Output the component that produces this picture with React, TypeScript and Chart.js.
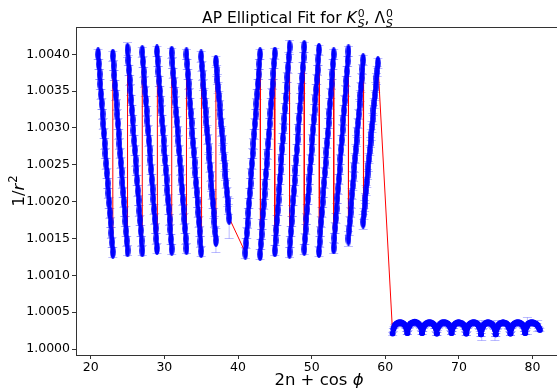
import React, { useEffect, useRef } from "react";
import { Chart, registerables } from "chart.js";

Chart.register(...registerables);

// ---- data ----
const cosPhi = [-1.0, -0.9, -0.8, -0.7, -0.6, -0.5, -0.4, -0.3, -0.2, -0.1, 0.0, 0.1, 0.2, 0.3, 0.4, 0.5, 0.6, 0.7, 0.8, 0.9, 1.0];

// falling segments
const nGroup1 = [11, 12, 13, 14, 15, 16, 17, 18, 19];
const yGroup1 = [
  [1.00400, 1.00387, 1.00373, 1.00360, 1.00346, 1.00333, 1.00319, 1.00306, 1.00293, 1.00279, 1.00266, 1.00252, 1.00239, 1.00225, 1.00212, 1.00199, 1.00185, 1.00172, 1.00158, 1.00145, 1.00132],
  [1.00398, 1.00385, 1.00372, 1.00358, 1.00345, 1.00332, 1.00319, 1.00306, 1.00292, 1.00279, 1.00266, 1.00253, 1.00240, 1.00226, 1.00213, 1.00200, 1.00187, 1.00174, 1.00160, 1.00147, 1.00134],
  [1.00406, 1.00392, 1.00379, 1.00365, 1.00352, 1.00338, 1.00324, 1.00311, 1.00297, 1.00283, 1.00270, 1.00256, 1.00243, 1.00229, 1.00215, 1.00202, 1.00188, 1.00175, 1.00161, 1.00147, 1.00134],
  [1.00403, 1.00390, 1.00376, 1.00363, 1.00350, 1.00337, 1.00323, 1.00310, 1.00297, 1.00283, 1.00270, 1.00257, 1.00244, 1.00230, 1.00217, 1.00204, 1.00190, 1.00177, 1.00164, 1.00150, 1.00137],
  [1.00404, 1.00391, 1.00377, 1.00364, 1.00350, 1.00337, 1.00324, 1.00310, 1.00297, 1.00283, 1.00270, 1.00257, 1.00243, 1.00230, 1.00216, 1.00203, 1.00190, 1.00176, 1.00163, 1.00149, 1.00136],
  [1.00402, 1.00389, 1.00375, 1.00362, 1.00349, 1.00336, 1.00322, 1.00309, 1.00296, 1.00283, 1.00270, 1.00256, 1.00243, 1.00230, 1.00217, 1.00203, 1.00190, 1.00177, 1.00164, 1.00150, 1.00137],
  [1.00400, 1.00387, 1.00373, 1.00360, 1.00347, 1.00333, 1.00320, 1.00307, 1.00293, 1.00280, 1.00267, 1.00253, 1.00240, 1.00226, 1.00213, 1.00200, 1.00186, 1.00173, 1.00160, 1.00146, 1.00133],
  [1.00397, 1.00384, 1.00372, 1.00359, 1.00347, 1.00334, 1.00322, 1.00309, 1.00297, 1.00285, 1.00272, 1.00260, 1.00247, 1.00235, 1.00222, 1.00210, 1.00198, 1.00185, 1.00173, 1.00160, 1.00148],
  [1.00390, 1.00378, 1.00366, 1.00355, 1.00343, 1.00331, 1.00319, 1.00307, 1.00296, 1.00284, 1.00272, 1.00260, 1.00249, 1.00237, 1.00225, 1.00213, 1.00201, 1.00190, 1.00178],
];

// rising segments
const nGroup2 = [21, 22, 23, 24, 25, 26, 27, 28, 29];
const yGroup2 = [
  [1.00131, 1.00144, 1.00158, 1.00171, 1.00185, 1.00198, 1.00212, 1.00225, 1.00239, 1.00252, 1.00266, 1.00279, 1.00292, 1.00306, 1.00319, 1.00333, 1.00346, 1.00360, 1.00373, 1.00387, 1.00400],
  [1.00129, 1.00143, 1.00156, 1.00170, 1.00184, 1.00197, 1.00211, 1.00224, 1.00238, 1.00252, 1.00265, 1.00279, 1.00292, 1.00306, 1.00320, 1.00333, 1.00347, 1.00360, 1.00374, 1.00388, 1.00401],
  [1.00134, 1.00148, 1.00162, 1.00175, 1.00189, 1.00203, 1.00217, 1.00231, 1.00244, 1.00258, 1.00272, 1.00286, 1.00300, 1.00313, 1.00327, 1.00341, 1.00355, 1.00369, 1.00382, 1.00396, 1.00410],
  [1.00132, 1.00146, 1.00160, 1.00174, 1.00188, 1.00202, 1.00215, 1.00229, 1.00243, 1.00257, 1.00271, 1.00285, 1.00299, 1.00313, 1.00327, 1.00341, 1.00354, 1.00368, 1.00382, 1.00396, 1.00410],
  [1.00136, 1.00150, 1.00163, 1.00177, 1.00190, 1.00204, 1.00217, 1.00231, 1.00244, 1.00258, 1.00271, 1.00285, 1.00298, 1.00312, 1.00325, 1.00339, 1.00352, 1.00366, 1.00379, 1.00393, 1.00406],
  [1.00133, 1.00146, 1.00160, 1.00173, 1.00186, 1.00200, 1.00213, 1.00226, 1.00240, 1.00253, 1.00267, 1.00280, 1.00293, 1.00307, 1.00320, 1.00333, 1.00347, 1.00360, 1.00373, 1.00387, 1.00400],
  [1.00138, 1.00151, 1.00165, 1.00178, 1.00191, 1.00205, 1.00218, 1.00231, 1.00244, 1.00258, 1.00271, 1.00284, 1.00298, 1.00311, 1.00324, 1.00338, 1.00351, 1.00364, 1.00377, 1.00391, 1.00404],
  [1.00150, 1.00162, 1.00174, 1.00186, 1.00198, 1.00211, 1.00223, 1.00235, 1.00247, 1.00259, 1.00271, 1.00283, 1.00295, 1.00307, 1.00319, 1.00332, 1.00344, 1.00356, 1.00368, 1.00380, 1.00392],
  [1.00173, 1.00184, 1.00195, 1.00205, 1.00216, 1.00227, 1.00238, 1.00248, 1.00259, 1.00270, 1.00281, 1.00291, 1.00302, 1.00313, 1.00324, 1.00334, 1.00345, 1.00356, 1.00367, 1.00377, 1.00388],
];

// small arches
const nGroup3 = [31, 32, 33, 34, 35, 36, 37, 38, 39, 40];
const yGroup3 = [
  [1.00021, 1.00027, 1.00030, 1.00032, 1.00033, 1.00034, 1.00035, 1.00035, 1.00036, 1.00036, 1.00036, 1.00036, 1.00036, 1.00035, 1.00035, 1.00034, 1.00033, 1.00032, 1.00030, 1.00027, 1.00022],
  [1.00022, 1.00028, 1.00030, 1.00032, 1.00034, 1.00035, 1.00035, 1.00036, 1.00036, 1.00036, 1.00037, 1.00036, 1.00036, 1.00036, 1.00035, 1.00034, 1.00033, 1.00032, 1.00030, 1.00028, 1.00022],
  [1.00022, 1.00027, 1.00030, 1.00032, 1.00033, 1.00034, 1.00035, 1.00035, 1.00036, 1.00036, 1.00036, 1.00036, 1.00036, 1.00035, 1.00035, 1.00034, 1.00033, 1.00031, 1.00030, 1.00027, 1.00021],
  [1.00021, 1.00028, 1.00030, 1.00032, 1.00033, 1.00034, 1.00035, 1.00036, 1.00036, 1.00036, 1.00036, 1.00036, 1.00036, 1.00035, 1.00035, 1.00034, 1.00033, 1.00032, 1.00030, 1.00028, 1.00022],
  [1.00022, 1.00027, 1.00030, 1.00031, 1.00033, 1.00034, 1.00035, 1.00035, 1.00036, 1.00036, 1.00036, 1.00036, 1.00035, 1.00035, 1.00035, 1.00034, 1.00033, 1.00032, 1.00029, 1.00027, 1.00021],
  [1.00021, 1.00027, 1.00030, 1.00032, 1.00033, 1.00034, 1.00035, 1.00035, 1.00036, 1.00036, 1.00036, 1.00036, 1.00036, 1.00035, 1.00035, 1.00034, 1.00033, 1.00031, 1.00029, 1.00026, 1.00020],
  [1.00020, 1.00026, 1.00029, 1.00031, 1.00033, 1.00034, 1.00035, 1.00035, 1.00036, 1.00036, 1.00036, 1.00036, 1.00035, 1.00035, 1.00034, 1.00034, 1.00032, 1.00031, 1.00029, 1.00026, 1.00020],
  [1.00020, 1.00026, 1.00029, 1.00031, 1.00033, 1.00034, 1.00035, 1.00035, 1.00035, 1.00036, 1.00036, 1.00036, 1.00035, 1.00035, 1.00035, 1.00034, 1.00033, 1.00031, 1.00029, 1.00027, 1.00021],
  [1.00021, 1.00027, 1.00030, 1.00032, 1.00033, 1.00034, 1.00035, 1.00035, 1.00036, 1.00036, 1.00036, 1.00036, 1.00036, 1.00035, 1.00035, 1.00034, 1.00033, 1.00032, 1.00030, 1.00027, 1.00022],
  [1.00022, 1.00028, 1.00030, 1.00032, 1.00034, 1.00035, 1.00035, 1.00036, 1.00036, 1.00036, 1.00036, 1.00036, 1.00035, 1.00035, 1.00034, 1.00034, 1.00033, 1.00032, 1.00030, 1.00028, 1.00026],
];

const errSteep = 0.00007;
const errWave = 0.00002;
const largeErrors = [
  { n: 13, i: 0, e: 0.0001 },
  { n: 18, i: 20, e: 0.00016 },
  { n: 19, i: 18, e: 0.00027 },
  { n: 23, i: 20, e: 0.00009 },
  { n: 28, i: 0, e: 0.0001 },
  { n: 29, i: 0, e: 0.0001 },
  { n: 37, i: 1, e: 0.00013 },
  { n: 37, i: 19, e: 0.00014 },
  { n: 40, i: 3, e: 0.00011 },
  { n: 40, i: 17, e: 0.00008 },
];

const xTickValues = [20, 30, 40, 50, 60, 70, 80];
const yTickValues = [1.0, 1.0005, 1.001, 1.0015, 1.002, 1.0025, 1.003, 1.0035, 1.004];

const titleMain = "AP Elliptical Fit for ";
const titleSym1 = "K";
const titleSym2 = "Λ";
const titleSup = "0";
const titleSub = "S";
const xLabelMain = "2n + cos ";
const xLabelSym = "ϕ";
const yLabelMain = "1/";
const yLabelSym = "r";
const yLabelSup = "2";

type Pt = { x: number; y: number; e: number };

function buildPoints(ns: number[], ys: number[][], defErr: number): Pt[] {
  const pts: Pt[] = [];
  ns.forEach((n, s) => {
    ys[s].forEach((y, i) => {
      const big = largeErrors.find((b) => b.n === n && b.i === i);
      pts.push({ x: 2 * n + cosPhi[i], y, e: big ? big.e : defErr });
    });
  });
  return pts;
}

const FONT = '"DejaVu Sans", "Liberation Sans", sans-serif';

const errorBarPlugin = {
  id: "errorBars",
  beforeDatasetsDraw(chart: any) {
    const { ctx, chartArea, scales } = chart;
    const xs = scales.x;
    const ys = scales.y;
    ctx.save();
    ctx.beginPath();
    ctx.rect(chartArea.left, chartArea.top, chartArea.right - chartArea.left, chartArea.bottom - chartArea.top);
    ctx.clip();
    ctx.strokeStyle = "rgba(60,60,255,0.35)";
    ctx.lineWidth = 1;
    [0, 1].forEach((di) => {
      (chart.data.datasets[di].data as Pt[]).forEach((p) => {
        const px = xs.getPixelForValue(p.x);
        const y1 = Math.round(ys.getPixelForValue(p.y - p.e)) + 0.5;
        const y2 = Math.round(ys.getPixelForValue(p.y + p.e)) + 0.5;
        ctx.beginPath();
        ctx.moveTo(px, y1);
        ctx.lineTo(px, y2);
        ctx.moveTo(px - 4.5, y1);
        ctx.lineTo(px + 4.5, y1);
        ctx.moveTo(px - 4.5, y2);
        ctx.lineTo(px + 4.5, y2);
        ctx.stroke();
      });
    });
    ctx.restore();
  },
};

const textPlugin = {
  id: "texts",
  afterDraw(chart: any) {
    const { ctx, chartArea } = chart;
    ctx.save();
    // top spine
    ctx.strokeStyle = "#333";
    ctx.lineWidth = 1;
    ctx.beginPath();
    ctx.moveTo(chartArea.left, Math.round(chartArea.top) + 0.5);
    ctx.lineTo(chartArea.right, Math.round(chartArea.top) + 0.5);
    ctx.moveTo(Math.round(chartArea.right) - 0.5, chartArea.top);
    ctx.lineTo(Math.round(chartArea.right) - 0.5, chartArea.bottom);
    ctx.stroke();

    ctx.fillStyle = "#000";
    ctx.textAlign = "left";
    ctx.textBaseline = "alphabetic";

    // title
    const tSize = 15.5;
    const fMain = `${tSize}px ${FONT}`;
    const fIt = `italic ${tSize}px ${FONT}`;
    const fSmall = `${tSize * 0.7}px ${FONT}`;
    const fSmallIt = `italic ${tSize * 0.7}px ${FONT}`;
    const meas = (t: string, f: string) => {
      ctx.font = f;
      return ctx.measureText(t).width;
    };
    const scriptW = Math.max(meas(titleSup, fSmall), meas(titleSub, fSmallIt));
    const total =
      meas(titleMain, fMain) + meas(titleSym1, fIt) + scriptW + 1 + meas(", ", fMain) + meas(titleSym2, fMain) + scriptW + 1;
    let cx = 297.5 - total / 2;
    const base = 23;
    ctx.font = fMain;
    ctx.fillText(titleMain, cx, base);
    cx += meas(titleMain, fMain);
    const sym = (s: string, f: string) => {
      ctx.font = f;
      ctx.fillText(s, cx, base);
      cx += meas(s, f) + 1;
      ctx.font = fSmall;
      ctx.fillText(titleSup, cx, base - 6.5);
      ctx.font = fSmallIt;
      ctx.fillText(titleSub, cx, base + 3.5);
      cx += scriptW;
    };
    sym(titleSym1, fIt);
    ctx.font = fMain;
    ctx.fillText(", ", cx, base);
    cx += meas(", ", fMain);
    sym(titleSym2, fMain);

    // x label
    const lSize = 16.5;
    const lMain = `${lSize}px ${FONT}`;
    const lIt = `italic ${lSize}px ${FONT}`;
    const lSmall = `${lSize * 0.7}px ${FONT}`;
    const xw = meas(xLabelMain, lMain) + meas(xLabelSym, lIt);
    let lx = (chartArea.left + chartArea.right) / 2 - xw / 2;
    ctx.font = lMain;
    ctx.fillText(xLabelMain, lx, 385);
    lx += meas(xLabelMain, lMain);
    ctx.font = lIt;
    ctx.fillText(xLabelSym, lx, 385);

    // y label
    const yw = meas(yLabelMain, lMain) + meas(yLabelSym, lIt) + 1 + meas(yLabelSup, lSmall);
    ctx.translate(24, (chartArea.top + chartArea.bottom) / 2);
    ctx.rotate(-Math.PI / 2);
    let ly = -yw / 2;
    ctx.font = lMain;
    ctx.fillText(yLabelMain, ly, 0);
    ly += meas(yLabelMain, lMain);
    ctx.font = lIt;
    ctx.fillText(yLabelSym, ly, 0);
    ly += meas(yLabelSym, lIt) + 1;
    ctx.font = lSmall;
    ctx.fillText(yLabelSup, ly, -7);
    ctx.restore();
  },
};

export default function App() {
  const ref = useRef<HTMLCanvasElement | null>(null);

  useEffect(() => {
    document.body.style.margin = "0";
    document.body.style.overflow = "hidden";
    if (!ref.current) return;

    const marker = document.createElement("canvas");
    marker.width = 6;
    marker.height = 14;
    const g = marker.getContext("2d")!;
    g.fillStyle = "#0000ff";
    g.beginPath();
    g.ellipse(3, 7, 2.8, 7, 0, 0, Math.PI * 2);
    g.fill();

    const steep = [...buildPoints(nGroup1, yGroup1, errSteep), ...buildPoints(nGroup2, yGroup2, errSteep)];
    const wave = buildPoints(nGroup3, yGroup3, errWave);
    const all = [...steep, ...wave];

    const tickFont = { family: '"DejaVu Sans", sans-serif', size: 12.5 };

    const chart = new Chart(ref.current, {
      type: "scatter",
      data: {
        datasets: [
          {
            data: steep,
            pointStyle: marker as any,
            pointRadius: 3,
            showLine: false,
            backgroundColor: "#0000ff",
            borderWidth: 0,
          },
          {
            data: wave,
            pointStyle: "circle",
            pointRadius: 3,
            pointBackgroundColor: "#0000ff",
            pointBorderWidth: 0,
            showLine: false,
          },
          {
            data: all,
            showLine: true,
            borderColor: "#ff0000",
            borderWidth: 1,
            pointRadius: 0,
            tension: 0,
          } as any,
        ],
      },
      options: {
        animation: false,
        responsive: false,
        devicePixelRatio: 1,
        events: [],
        layout: { padding: { top: 27, right: 4, left: 0, bottom: 0 } },
        plugins: { legend: { display: false }, tooltip: { enabled: false }, title: { display: false } },
        scales: {
          x: {
            type: "linear",
            min: 18,
            max: 84,
            afterBuildTicks: (s: any) => {
              s.ticks = xTickValues.map((v) => ({ value: v }));
            },
            afterFit: (s: any) => {
              s.height = 35;
            },
            ticks: { font: tickFont, color: "#000", padding: 1, maxRotation: 0, autoSkip: false, callback: (v: any) => String(v) },
            grid: { display: true, drawOnChartArea: false, drawTicks: true, tickLength: 4, color: "#333" },
            border: { display: true, color: "#333", width: 1 },
          },
          y: {
            type: "linear",
            min: 0.99992,
            max: 1.00437,
            afterBuildTicks: (s: any) => {
              s.ticks = yTickValues.map((v) => ({ value: v }));
            },
            afterFit: (s: any) => {
              s.width = 76;
            },
            ticks: { font: tickFont, color: "#000", padding: 2, autoSkip: false, callback: (v: any) => Number(v).toFixed(4) },
            grid: { display: true, drawOnChartArea: false, drawTicks: true, tickLength: 4, color: "#333" },
            border: { display: true, color: "#333", width: 1 },
          },
        },
      },
      plugins: [errorBarPlugin, textPlugin],
    });
    return () => chart.destroy();
  }, []);

  return (
    <div style={{ width: 557, height: 390, overflow: "hidden", background: "#fff" }}>
      <canvas ref={ref} width={566} height={390} style={{ display: "block", width: 566, height: 390 }} />
    </div>
  );
}
